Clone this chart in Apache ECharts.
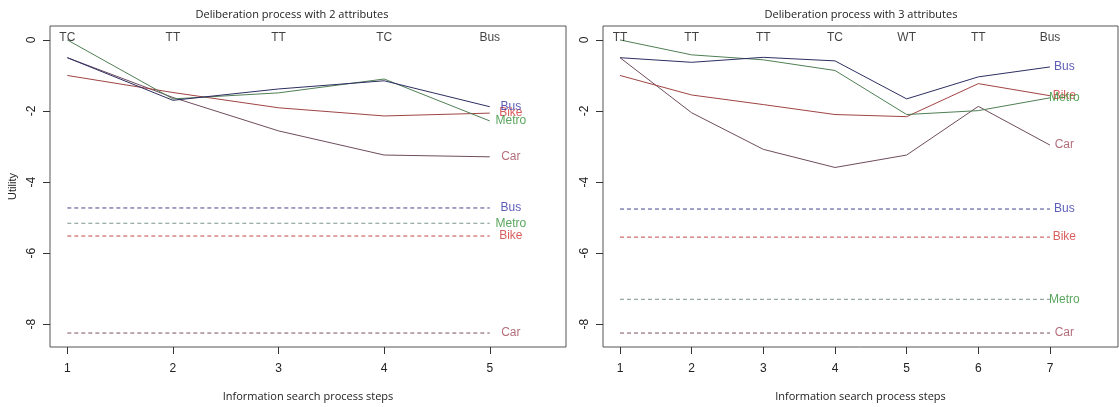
<!DOCTYPE html>
<html><head><meta charset="utf-8">
<script src="https://cdn.jsdelivr.net/npm/echarts@6/dist/echarts.min.js"></script>
<style>html,body{margin:0;padding:0;background:#fff}#c{width:1119px;height:407px}</style>
</head><body><div id="c"></div>
<script>
// ---- Panel 1: 2 attributes ----
const steps2 = [1, 2, 3, 4, 5];
const topLabels2 = ['TC', 'TT', 'TT', 'TC', 'Bus'];
const bus2   = [-0.50, -1.70, -1.38, -1.15, -1.88];
const bike2  = [-1.00, -1.48, -1.91, -2.14, -2.06];
const metro2 = [ 0.00, -1.66, -1.49, -1.10, -2.28];
const car2   = [-0.50, -1.62, -2.56, -3.24, -3.29];
const refNames2  = ['Bus', 'Metro', 'Bike', 'Car'];
const refValues2 = [-4.73, -5.16, -5.52, -8.25];

// ---- Panel 2: 3 attributes ----
const steps3 = [1, 2, 3, 4, 5, 6, 7];
const topLabels3 = ['TT', 'TT', 'TT', 'TC', 'WT', 'TT', 'Bus'];
const bus3   = [-0.50, -0.63, -0.49, -0.59, -1.66, -1.04, -0.76];
const bike3  = [-1.00, -1.55, -1.82, -2.10, -2.16, -1.23, -1.57];
const metro3 = [ 0.00, -0.42, -0.56, -0.86, -2.10, -1.99, -1.63];
const car3   = [-0.50, -2.05, -3.08, -3.59, -3.24, -1.87, -2.96];
const refNames3  = ['Bus', 'Bike', 'Metro', 'Car'];
const refValues3 = [-4.76, -5.55, -7.30, -8.25];

const yTicks = [0, -2, -4, -6, -8];
const titles = ['Deliberation process with 2 attributes', 'Deliberation process with 3 attributes'];
const xName = 'Information search process steps';
const yName = 'Utility';

const lineColor  = {Bus: '#2e2e62', Bike: '#a04444', Metro: '#4f7f55', Car: '#6e4d5e'};
const labelColor = {Bus: '#3434a6', Bike: '#d03434', Metro: '#2f8f35', Car: '#a04a58'};
const dashColor  = {Bus: '#44448a', Bike: '#c44848', Metro: '#7a9686', Car: '#7a5262'};
const LABEL_DX = 0.2;
const FONT = '"Liberation Sans", Arial, sans-serif';

function panelSeries(idx, steps, tops, lines, refNames, refValues) {
  const n = steps.length;
  const s = [];
  Object.keys(lines).forEach(name => {
    const vals = lines[name];
    s.push({type: 'line', xAxisIndex: idx, yAxisIndex: idx, symbol: 'none', silent: true,
      data: steps.map((x, i) => [x, vals[i]]),
      lineStyle: {color: lineColor[name], width: 1}, z: 3});
    s.push({type: 'scatter', xAxisIndex: idx, yAxisIndex: idx, symbolSize: 1, silent: true,
      itemStyle: {color: 'rgba(0,0,0,0)'},
      data: [[steps[n - 1] + LABEL_DX, vals[n - 1]]],
      label: {show: true, position: 'inside', formatter: name, color: labelColor[name],
        fontSize: 12, fontFamily: FONT}, z: 4});
  });
  refNames.forEach((name, k) => {
    const v = refValues[k];
    s.push({type: 'line', xAxisIndex: idx, yAxisIndex: idx, symbol: 'none', silent: true,
      data: [[steps[0], v], [steps[n - 1], v]],
      lineStyle: {color: dashColor[name], width: 1, type: [4, 3]}, z: 2});
    s.push({type: 'scatter', xAxisIndex: idx, yAxisIndex: idx, symbolSize: 1, silent: true,
      itemStyle: {color: 'rgba(0,0,0,0)'},
      data: [[steps[n - 1] + LABEL_DX, v]],
      label: {show: true, position: 'inside', formatter: name, color: labelColor[name],
        fontSize: 12, fontFamily: FONT}, z: 4});
  });
  s.push({type: 'scatter', xAxisIndex: idx, yAxisIndex: idx, symbolSize: 1, silent: true,
    itemStyle: {color: 'rgba(0,0,0,0)'},
    data: steps.map((x, i) => ({value: [x, 0], label: {formatter: tops[i]}})),
    label: {show: true, position: 'inside', offset: [0, -2], color: '#111', fontSize: 12, fontFamily: FONT}, z: 5});
  return s;
}

function xAxis(idx, min, max, ticks) {
  return {type: 'value', gridIndex: idx, min: min, max: max, position: 'bottom',
    splitLine: {show: false}, axisLine: {show: false, onZero: false},
    axisTick: {show: true, length: 7, inside: false, customValues: ticks, lineStyle: {color: '#333'}},
    axisLabel: {customValues: ticks, margin: 16, color: '#222', fontSize: 12, fontFamily: FONT},
    name: xName, nameLocation: 'middle', nameGap: 44,
    nameTextStyle: {color: '#222', fontSize: 11, fontFamily: 'Open Sans, sans-serif'}};
}
function yAxis(idx, withName) {
  const a = {type: 'value', gridIndex: idx, min: -8.643, max: 0.392, position: 'left',
    splitLine: {show: false}, axisLine: {show: false, onZero: false},
    axisTick: {show: true, length: 7, inside: false, customValues: yTicks, lineStyle: {color: '#333'}},
    axisLabel: {customValues: yTicks, rotate: 90, margin: 12, color: '#222', fontSize: 12, fontFamily: FONT}};
  if (withName) {
    a.name = yName; a.nameLocation = 'middle'; a.nameGap = 32;
    a.nameTextStyle = {color: '#222', fontSize: 11, fontFamily: FONT};
  }
  return a;
}

const chart = echarts.init(document.getElementById('c'), null, {renderer: 'canvas'});
chart.setOption({
  backgroundColor: '#fff',
  animation: false,
  title: [
    {text: titles[0], left: 287, top: 4, textAlign: 'center',
      textStyle: {fontSize: 11, fontWeight: 'normal', color: '#222', fontFamily: 'Open Sans, sans-serif'}},
    {text: titles[1], left: 856, top: 4, textAlign: 'center',
      textStyle: {fontSize: 11, fontWeight: 'normal', color: '#222', fontFamily: 'Open Sans, sans-serif'}}
  ],
  grid: [
    {left: 50, top: 26, width: 516, height: 323, show: true, borderColor: '#555', borderWidth: 1, backgroundColor: 'transparent'},
    {left: 603, top: 26, width: 515, height: 323, show: true, borderColor: '#555', borderWidth: 1, backgroundColor: 'transparent'}
  ],
  xAxis: [xAxis(0, 0.836, 5.722, steps2), xAxis(1, 0.763, 7.949, steps3)],
  yAxis: [yAxis(0, true), yAxis(1, false)],
  series: [].concat(
    panelSeries(0, steps2, topLabels2, {Car: car2, Bike: bike2, Metro: metro2, Bus: bus2}, refNames2, refValues2),
    panelSeries(1, steps3, topLabels3, {Car: car3, Bike: bike3, Metro: metro3, Bus: bus3}, refNames3, refValues3)
  )
});
</script></body></html>
